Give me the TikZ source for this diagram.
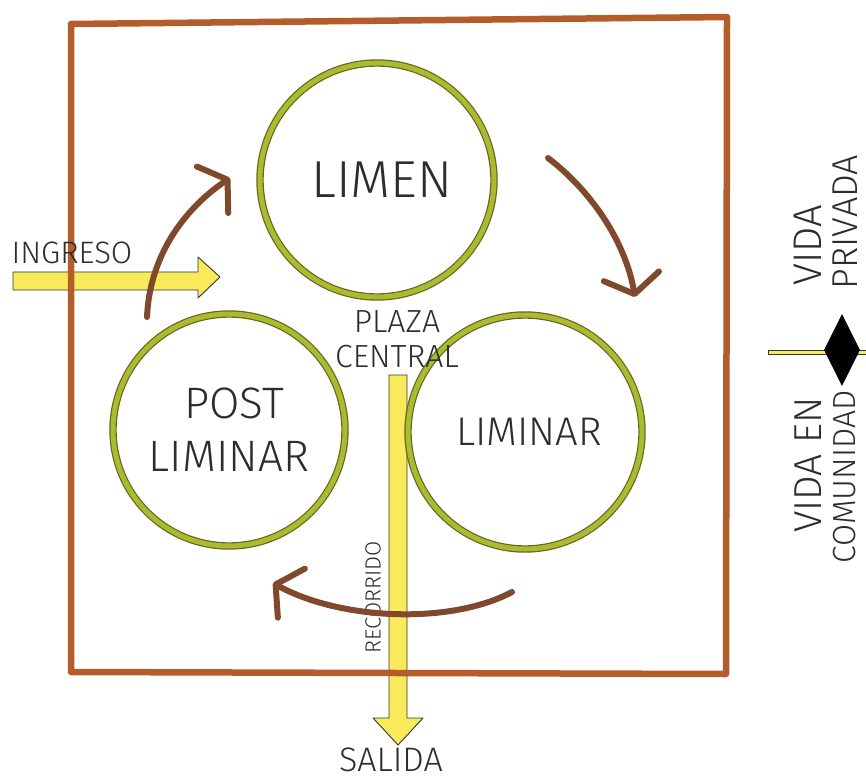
\documentclass[tikz,border=0pt]{standalone}
\usepackage{fontspec}
\setmainfont{Fira Sans}[UprightFont=* Light]
\usetikzlibrary{arrows.meta,shapes.geometric}
\definecolor{framebrown}{RGB}{180,92,42}
\definecolor{arrowbrown}{RGB}{128,72,44}
\definecolor{ringgreen}{RGB}{172,186,48}
\definecolor{ringdark}{RGB}{95,105,30}
\definecolor{markyellow}{RGB}{248,234,90}
\definecolor{inkgray}{RGB}{45,45,45}
\newcommand{\fsz}[2]{\fontsize{#1}{#2}\selectfont}

\begin{document}
\begin{tikzpicture}[x=1pt,y=-1pt]
    \tikzset{every node/.style={text=inkgray,inner sep=0pt}}
    \tikzset{ring/.style={circle,draw=ringdark,line width=1.2pt,double=ringgreen,double distance=5pt,minimum size=#1,align=center}}
    \tikzset{turn/.style={draw=arrowbrown,line width=6pt,line cap=round,-{Straight Barb[length=18pt,width=56pt,line cap=round,line join=round]}}}
    \tikzset{marker/.style={fill=markyellow,draw=black!80,line width=0.9pt,line join=round}}
    \useasboundingbox (0,0) rectangle (866,783);
    \clip (0,0) rectangle (866,783);
    % yellow arrows
    \path[marker] (13,272) -- (198,272) -- (198,257) -- (220,277) -- (198,298) -- (198,290) -- (13,290) -- cycle;
    \path[marker] (389,375) -- (407,375) -- (407,718) -- (423,718) -- (398,745) -- (373,718) -- (389,718) -- cycle;
    % frame
    \draw[framebrown,line width=6.5pt,line join=round] (71,24) -- (727,17) -- (726,674) -- (71,672) -- cycle;
    % rings
    \node[ring=234pt,font=\fsz{52}{56}] (limen) at (377,180) {\hspace{10pt}LIMEN};
    \node[ring=232pt,font=\fsz{44}{53}] (post) at (229,430) {\hspace{10pt}POST\\LIMINAR};
    \node[ring=234pt,font=\fsz{40}{46}] (liminar) at (525,432) {\hspace{8pt}LIMINAR};
    \node[align=center,font=\fsz{32}{35}] (plaza) at (397,339) {PLAZA\\CENTRAL};
    \node[font=\fsz{31}{34}] (ingreso) at (72,253) {INGRESO};
    \node[rotate=90,font=\fsz{22}{24}] (recorrido) at (373,597) {RECORRIDO};
    \node[font=\fsz{34}{38}] (salida) at (391,760) {SALIDA};
    % brown turns
    \coordinate (t1a) at (147,317);
    \coordinate (t1b) at (230,178);
    \coordinate (t2a) at (548,158);
    \coordinate (t2b) at (635,297);
    \coordinate (t3a) at (512,592);
    \coordinate (t3b) at (273,583);
    \draw[turn] (t1a) .. controls (150,250) and (190,205) .. (t1b);
    \draw[turn] (t2a) .. controls (590,190) and (625,240) .. (t2b);
    \draw[turn] (t3a) .. controls (450,625) and (340,620) .. (t3b);
    % right side
    \path[marker] (768,350) rectangle (866,354);
    \node[diamond,fill=black,minimum width=36pt,minimum height=72pt] (split) at (842,350) {};
    \node[rotate=90,font=\fsz{40}{44}] (vida) at (808,245) {VIDA};
    \node[rotate=90,font=\fsz{36}{40}] (privada) at (845,222) {PRIVADA};
    \node[rotate=90,font=\fsz{39}{42}] (vidaen) at (808,465) {VIDA EN};
    \node[rotate=90,font=\fsz{32}{36}] (comunidad) at (845,477) {COMUNIDAD};
\end{tikzpicture}
\end{document}
